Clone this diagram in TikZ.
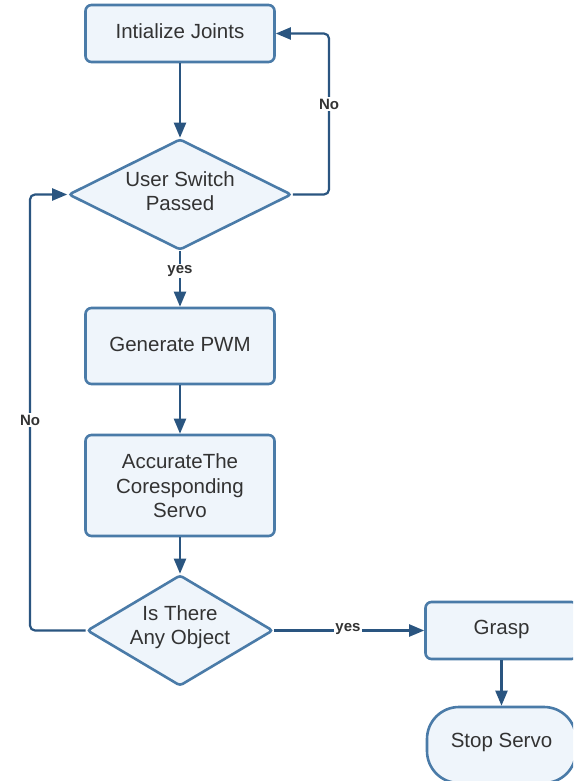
\documentclass[tikz,border=0pt]{standalone}
\usepackage{fontspec}
\setmainfont{Liberation Sans}
\usetikzlibrary{shapes.geometric,arrows.meta}
\definecolor{bordc}{HTML}{4A7BA8}
\definecolor{fillc}{HTML}{EFF5FB}
\definecolor{linec}{HTML}{2A5580}
\definecolor{txtc}{HTML}{333333}
\tikzset{
  box/.style={draw=bordc, fill=fillc, line width=2.6pt, rounded corners=6pt, inner sep=0pt},
  dia/.style={diamond, draw=bordc, fill=fillc, line width=2.6pt, rounded corners=3pt, inner sep=0pt},
  txt/.style={text=txtc, align=center, font=\fontsize{20.5}{24.5}\selectfont, inner sep=0pt},
  conn/.style={draw=linec, line width=2.2pt, rounded corners=5pt, -{Triangle[length=15pt,width=12pt]}},
  lbl/.style={fill=white, text=txtc, font=\fontsize{15}{17}\bfseries, inner sep=1.5pt}
}
\begin{document}
\begin{tikzpicture}[x=1pt,y=-1pt]
\useasboundingbox (0,0) rectangle (573,781);
\clip (0,0) rectangle (573,781);
\fill[white] (0,0) rectangle (573,781);
% nodes
\node[box, minimum width=189pt, minimum height=57pt] (init) at (180,33.5) {};
\node[txt] (initt) at (180,31.5) {Intialize Joints};
\node[dia, minimum width=223pt, minimum height=111pt] (d1) at (180,194.5) {};
\node[txt] (d1t) at (180,191) {User Switch\\Passed};
\node[box, minimum width=189pt, minimum height=76pt] (pwm) at (180,346) {};
\node[txt] (pwmt) at (180,344) {Generate PWM};
\node[box, minimum width=189pt, minimum height=101pt] (acc) at (180,485.5) {};
\node[txt] (acct) at (180,486) {AccurateThe\\Coresponding\\Servo};
\node[dia, minimum width=186pt, minimum height=111pt] (d2) at (180,630.5) {};
\node[txt] (d2t) at (180,627) {Is There\\Any Object};
\node[box, minimum width=152pt, minimum height=57pt] (grasp) at (501.5,630.5) {};
\node[txt] (graspt) at (501.5,629) {Grasp};
\node[box, rounded corners=32pt, minimum width=149pt, minimum height=76pt] (stop) at (501.5,745) {};
\node[txt] (stopt) at (501.5,742) {Stop Servo};
% coordinates for loops
\coordinate (rA) at (329,194.5);
\coordinate (rB) at (329,33.5);
\coordinate (lA) at (30,630.5);
\coordinate (lB) at (30,194.5);
% connectors
\draw[conn] (init.south) -- (d1.north);
\draw[conn] (d1.east) -- (rA) -- (rB) -- (init.east);
\draw[conn] (d1.south) -- (pwm.north);
\draw[conn] (pwm.south) -- (acc.north);
\draw[conn] (acc.south) -- (d2.north);
\draw[conn] (d2.west) -- (lA) -- (lB) -- (d1.west);
\draw[conn] (d2.east) -- (grasp.west);
\draw[conn] (grasp.south) -- (stop.north);
% labels
\node[lbl] (no1) at (329,104) {No};
\node[lbl] (yes1) at (180,271) {yes};
\node[lbl] (no2) at (30,420) {No};
\node[lbl] (yes2) at (348,629.5) {yes};
\end{tikzpicture}
\end{document}
